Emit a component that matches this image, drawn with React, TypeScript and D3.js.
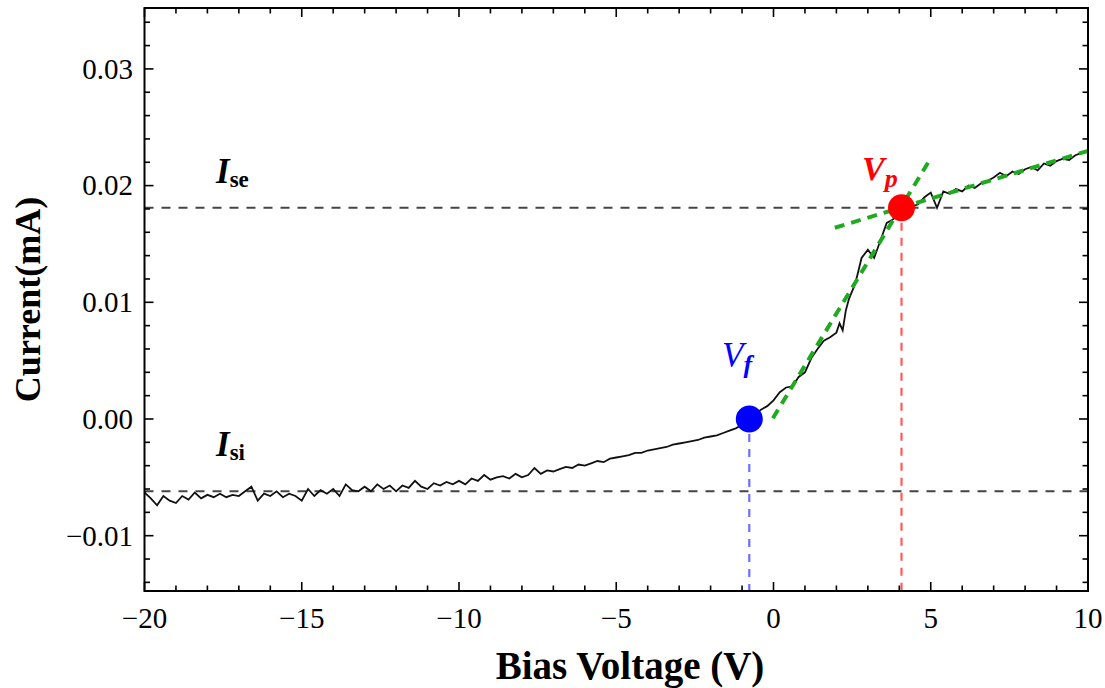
import React from "react";
import * as d3 from "d3";

// Langmuir probe I–V trace: bias voltage (V) and collected current (mA)
const biasVoltage: number[] = [
  -20, -19.8, -19.6, -19.4, -19.2, -19, -18.8, -18.6, -18.4, -18.2,
  -18, -17.8, -17.6, -17.4, -17.2, -17, -16.8, -16.6, -16.4, -16.2,
  -16, -15.8, -15.6, -15.4, -15.2, -15, -14.8, -14.6, -14.4, -14.2,
  -14, -13.8, -13.6, -13.4, -13.2, -13, -12.8, -12.6, -12.4, -12.2,
  -12, -11.8, -11.6, -11.4, -11.2, -11, -10.8, -10.6, -10.4, -10.2,
  -10, -9.8, -9.6, -9.4, -9.2, -9, -8.8, -8.6, -8.4, -8.2,
  -8, -7.8, -7.6, -7.4, -7.2, -7, -6.8, -6.6, -6.4, -6.2,
  -6, -5.8, -5.6, -5.4, -5.2, -5, -4.8, -4.6, -4.4, -4.2,
  -4, -3.8, -3.6, -3.4, -3.2, -3, -2.8, -2.6, -2.4, -2.2,
  -2, -1.8, -1.6, -1.4, -1.2, -1, -0.8, -0.6, -0.4, -0.2,
  0, 0.2, 0.4, 0.6, 0.8, 1, 1.2, 1.4, 1.6, 1.8, 2,
  2.1, 2.2, 2.3,
  2.4, 2.6, 2.8, 3, 3.2, 3.4, 3.6, 3.8, 4, 4.2,
  4.4, 4.6, 4.8, 5, 5.2, 5.4, 5.6, 5.8, 6, 6.2,
  6.4, 6.6, 6.8, 7, 7.2, 7.4, 7.6, 7.8, 8, 8.2,
  8.4, 8.6, 8.8, 9, 9.2, 9.4, 9.6, 9.8, 10,
];

const probeCurrent: number[] = [
  -0.0063, -0.0068, -0.0074, -0.0066, -0.007, -0.0072, -0.0066, -0.0069, -0.0063, -0.0068,
  -0.0065, -0.0067, -0.0064, -0.0067, -0.0065, -0.0066, -0.0062, -0.0058, -0.007, -0.0064,
  -0.0066, -0.0062, -0.0067, -0.0064, -0.0066, -0.007, -0.006, -0.0066, -0.0061, -0.0064,
  -0.006, -0.0066, -0.0056, -0.0061, -0.0062, -0.0058, -0.0062, -0.0056, -0.006, -0.0057,
  -0.0062, -0.0057, -0.0059, -0.0053, -0.0058, -0.006, -0.0055, -0.0057, -0.0054, -0.0056,
  -0.0053, -0.0056, -0.0051, -0.0053, -0.0048, -0.0052, -0.005, -0.0049, -0.0051, -0.0047,
  -0.005, -0.0048, -0.0042, -0.0047, -0.0044, -0.0045, -0.0043, -0.0041, -0.0042, -0.0039,
  -0.004, -0.0038, -0.0036, -0.0037, -0.0034, -0.0033, -0.0032, -0.0031, -0.0029, -0.0029,
  -0.0027, -0.0026, -0.0025, -0.0024, -0.0022, -0.0021, -0.002, -0.0019, -0.0018, -0.0016,
  -0.0015, -0.0014, -0.0012, -0.001, -0.0008, -0.0005, 0.0, 0.0003, 0.0008, 0.0011,
  0.0016, 0.0023, 0.0027, 0.0028, 0.0036, 0.004, 0.0052, 0.006, 0.0067, 0.007, 0.0074,
  0.0082, 0.0076, 0.0093,
  0.0103, 0.0116, 0.0138, 0.0145, 0.0138, 0.0153, 0.0168, 0.0171, 0.018, 0.0178,
  0.0182, 0.0184, 0.019, 0.0194, 0.0181, 0.0195, 0.0193, 0.0197, 0.0195, 0.02,
  0.0198, 0.0202, 0.0204, 0.0207, 0.0211, 0.0208, 0.0212, 0.021, 0.0214, 0.0216,
  0.0213, 0.0219, 0.0217, 0.0221, 0.0223, 0.0222, 0.0226, 0.0228, 0.023,
];

// Characteristic levels and points
const saturationElectron = 0.0181; // I_se
const saturationIon = -0.0062; // I_si
const floatingPotential = -0.77; // V_f (current = 0)
const plasmaPotential = 4.07; // V_p

// Fitted straight lines (transition region and electron saturation region)
const transitionFitV = [-0.02, 5.03];
const transitionFitI = [0.00006, 0.02248];
const saturationFitV = [1.95, 10];
const saturationFitI = [0.01639, 0.02298];

const xMajorTicks = [-20, -15, -10, -5, 0, 5, 10];
const yMajorTicks = [-0.01, 0.0, 0.01, 0.02, 0.03];

const W = 1105;
const H = 688;
const left = 144.5;
const right = 1088;
const top = 8;
const bottom = 591;

const FONT = "'Liberation Serif', 'Times New Roman', serif";

export default function App() {
  const x = d3.scaleLinear().domain([-20, 10]).range([left, right]);
  const y = d3.scaleLinear().domain([-0.01474, 0.03522]).range([bottom, top]);

  const xMinor = d3.range(-20, 11, 1);
  const yMinor = d3.range(-7, 18).map((k) => k * 0.002);
  const fmtY = d3.format(".2f");
  const fmtX = d3.format("d");

  const pts: [number, number][] = biasVoltage.map((v, i) => [v, probeCurrent[i]]);
  const line = d3
    .line<[number, number]>()
    .x((d) => x(d[0]))
    .y((d) => y(d[1]));

  const fitLine = (vs: number[], is: number[]) =>
    line(vs.map((v, i) => [v, is[i]] as [number, number])) || "";

  const isMajorX = (v: number) => xMajorTicks.includes(v);
  const isMajorY = (v: number) => yMajorTicks.some((t) => Math.abs(t - v) < 1e-9);

  return (
    <svg
      width={W}
      height={H}
      style={{ position: "absolute", left: 0, top: 0, background: "#fff" }}
      fontFamily={FONT}
    >
      <defs>
        <clipPath id="plotArea">
          <rect x={left} y={top} width={right - left} height={bottom - top} />
        </clipPath>
      </defs>

      {/* reference levels */}
      <g clipPath="url(#plotArea)">
        <line
          x1={left}
          x2={right}
          y1={y(saturationElectron)}
          y2={y(saturationElectron)}
          stroke="#444"
          strokeWidth={2}
          strokeDasharray="9,8"
        />
        <line
          x1={left}
          x2={right}
          y1={y(saturationIon)}
          y2={y(saturationIon)}
          stroke="#444"
          strokeWidth={2}
          strokeDasharray="9,8"
        />
        <line
          x1={x(floatingPotential)}
          x2={x(floatingPotential)}
          y1={y(0)}
          y2={bottom}
          stroke="#6f6fff"
          strokeWidth={2.2}
          strokeDasharray="8,7"
        />
        <line
          x1={x(plasmaPotential)}
          x2={x(plasmaPotential)}
          y1={y(saturationElectron)}
          y2={bottom}
          stroke="#ff5a5a"
          strokeWidth={2.2}
          strokeDasharray="8,7"
        />

        {/* measured I–V curve */}
        <path d={line(pts) || ""} fill="none" stroke="#111" strokeWidth={1.8} />

        {/* linear fits */}
        <path
          d={fitLine(transitionFitV, transitionFitI)}
          fill="none"
          stroke="#1faa1f"
          strokeWidth={4}
          strokeDasharray="10,7"
        />
        <path
          d={fitLine(saturationFitV, saturationFitI)}
          fill="none"
          stroke="#1faa1f"
          strokeWidth={4}
          strokeDasharray="10,7"
        />

        {/* characteristic points */}
        <circle cx={x(floatingPotential)} cy={y(0)} r={13.5} fill="#0000ff" />
        <circle cx={x(plasmaPotential)} cy={y(saturationElectron)} r={13.5} fill="#ff0000" />
      </g>

      {/* frame */}
      <rect
        x={left}
        y={top}
        width={right - left}
        height={bottom - top}
        fill="none"
        stroke="#000"
        strokeWidth={2}
      />

      {/* x ticks on bottom and top */}
      {xMinor.map((v) => {
        const len = isMajorX(v) ? 9 : 5.5;
        return (
          <g key={"xt" + v} stroke="#000" strokeWidth={1.6}>
            <line x1={x(v)} x2={x(v)} y1={bottom} y2={bottom - len} />
            <line x1={x(v)} x2={x(v)} y1={top} y2={top + len} />
          </g>
        );
      })}
      {/* y ticks on left and right */}
      {yMinor.map((v) => {
        const len = isMajorY(v) ? 9 : 5.5;
        return (
          <g key={"yt" + v} stroke="#000" strokeWidth={1.6}>
            <line x1={left} x2={left + len} y1={y(v)} y2={y(v)} />
            <line x1={right} x2={right - len} y1={y(v)} y2={y(v)} />
          </g>
        );
      })}

      {/* tick labels */}
      {xMajorTicks.map((v) => (
        <text
          key={"xl" + v}
          x={x(v)}
          y={628}
          textAnchor="middle"
          fontSize={29}
          fill="#000"
        >
          {fmtX(v)}
        </text>
      ))}
      {yMajorTicks.map((v) => (
        <text
          key={"yl" + v}
          x={133}
          y={y(v)}
          dy="0.34em"
          textAnchor="end"
          fontSize={29}
          fill="#000"
        >
          {fmtY(v)}
        </text>
      ))}

      {/* axis titles */}
      <text
        x={630}
        y={679}
        textAnchor="middle"
        fontSize={39}
        fontWeight="bold"
        fill="#000"
      >
        Bias Voltage (V)
      </text>
      <text
        transform={`translate(40,${(top + bottom) / 2}) rotate(-90)`}
        textAnchor="middle"
        fontSize={36}
        fontWeight="bold"
        fill="#000"
      >
        Current(mA)
      </text>

      {/* annotations */}
      <text x={216} y={183} fill="#000" fontWeight="bold">
        <tspan fontStyle="italic" fontSize={35}>
          I
        </tspan>
        <tspan fontSize={23} dy={4}>
          se
        </tspan>
      </text>
      <text x={216} y={456} fill="#000" fontWeight="bold">
        <tspan fontStyle="italic" fontSize={35}>
          I
        </tspan>
        <tspan fontSize={23} dy={4}>
          si
        </tspan>
      </text>
      <text x={722} y={367} fill="#0000ff">
        <tspan fontStyle="italic" fontSize={35}>
          V
        </tspan>
        <tspan fontStyle="italic" fontWeight="bold" fontSize={26} dy={6}>
          f
        </tspan>
      </text>
      <text x={862} y={180} fill="#ff0000" fontWeight="bold">
        <tspan fontStyle="italic" fontSize={34}>
          V
        </tspan>
        <tspan fontStyle="italic" fontSize={26} dy={7}>
          p
        </tspan>
      </text>
    </svg>
  );
}
